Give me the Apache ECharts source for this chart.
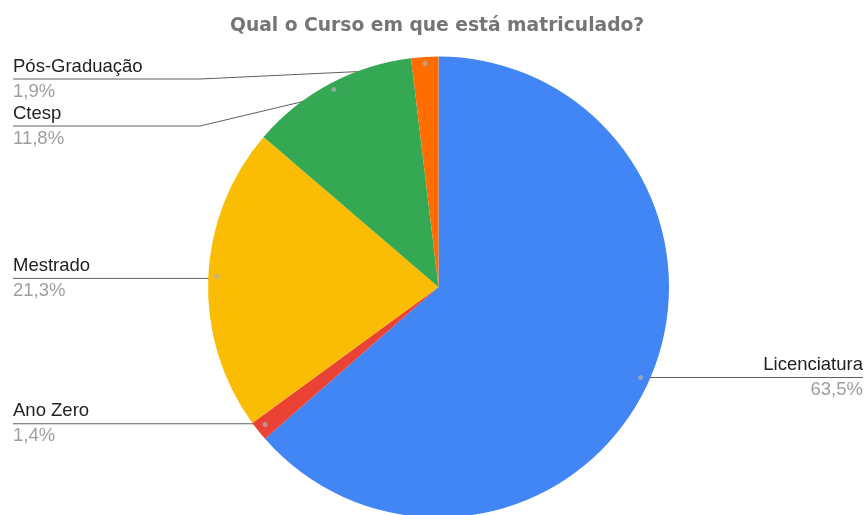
<!DOCTYPE html>
<html>
<head>
<meta charset="utf-8">
<script src="https://cdn.jsdelivr.net/npm/echarts@6/dist/echarts.min.js"></script>
<style>
  html, body { margin: 0; padding: 0; background: #fff; }
  #chart { width: 867px; height: 515px; }
</style>
</head>
<body>
<div id="chart"></div>
<script>
// Survey answers: share of respondents per course type (percent)
const chartTitle = 'Qual o Curso em que está matriculado?';
const categories = ['Licenciatura', 'Ano Zero', 'Mestrado', 'Ctesp', 'Pós-Graduação'];
const shares = [63.5, 1.4, 21.3, 11.8, 1.9];
const sliceColors = ['#4285F4', '#EA4335', '#FBBC04', '#34A853', '#FF6D01'];

// Pie geometry (page pixels) and the box the labels live in
const PIE_CX = 438.5, PIE_CY = 287, PIE_R = 230.5;
const BOX = { left: 13, right: 4, top: 0, bottom: 0 };
const DOT_RATIO = 0.95;        // leader lines start from a small dot inside each slice
const LABEL_COLUMN = 187;      // width of the label column the leader line runs under
const LABEL_GAP = 47;          // minimum vertical distance between stacked labels
const LABEL_TOP = 79;          // highest allowed leader-line row
const FONT = '"Liberation Sans", Arial, sans-serif';

const fmtPct = v => v.toFixed(1).replace('.', ',') + '%';
const center = [PIE_CX - BOX.left, PIE_CY - BOX.top];

// Anchor dot of every slice (mid-angle, clockwise from 12 o'clock)
const total = shares.reduce((a, b) => a + b, 0);
let acc = 0;
const anchors = shares.map(v => {
  const a = (acc + v / 2) / total * Math.PI * 2;
  acc += v;
  const rr = PIE_R * DOT_RATIO;
  return { x: PIE_CX + rr * Math.sin(a), y: PIE_CY - rr * Math.cos(a), left: Math.sin(a) < 0 };
});

// Row of each label: at its anchor's height, pushed down so stacked labels never collide
const labelRows = anchors.map(p => p.y);
[true, false].forEach(side => {
  const idx = anchors.map((p, i) => i).filter(i => anchors[i].left === side)
    .sort((a, b) => anchors[a].y - anchors[b].y);
  let prev = LABEL_TOP - LABEL_GAP;
  idx.forEach(i => {
    labelRows[i] = Math.max(anchors[i].y, prev + LABEL_GAP);
    prev = labelRows[i];
  });
});

const sliceData = categories.map((name, i) => ({
  name,
  value: shares[i],
  itemStyle: { color: sliceColors[i] }
}));

const chart = echarts.init(document.getElementById('chart'), null, { renderer: 'canvas' });

chart.setOption({
  animation: false,
  backgroundColor: '#ffffff',
  title: {
    text: chartTitle,
    left: 230,
    top: 17,
    padding: 0,
    textStyle: {
      fontFamily: '"DejaVu Sans", sans-serif',
      fontWeight: 'bold',
      fontSize: 18.7,
      color: '#757575'
    }
  },
  series: [
    {
      type: 'pie',
      ...BOX,
      center: center,
      radius: [0, PIE_R],
      startAngle: 90,
      clockwise: true,
      avoidLabelOverlap: false,
      emphasis: { disabled: true },
      data: sliceData,
      label: {
        show: true,
        position: 'outer',
        alignTo: 'edge',
        edgeDistance: 0,
        distanceToLabelLine: 0,
        formatter: p => `{n|${p.name}}\n{p|${fmtPct(p.value)}}`,
        rich: {
          n: { fontFamily: FONT, fontSize: 18.5, color: '#222222', lineHeight: 25 },
          p: { fontFamily: FONT, fontSize: 18.5, color: '#9e9e9e', lineHeight: 25 }
        }
      },
      labelLine: {
        show: true,
        length: 10,
        length2: 20,
        smooth: false,
        lineStyle: { color: '#5f5f5f', width: 1 }
      },
      labelLayout: function (params) {
        const i = params.dataIndex;
        const rect = params.labelRect;
        const y = labelRows[i];
        const dot = [anchors[i].x, anchors[i].y];
        const isLeft = anchors[i].left;
        const outer = isLeft ? rect.x : rect.x + rect.width;
        const turn = isLeft ? rect.x + LABEL_COLUMN : rect.x + rect.width - LABEL_COLUMN;
        return { y: y, labelLinePoints: [dot, [turn, y], [outer, y]] };
      }
    },
    {
      // small anchor dots where the leader lines start
      type: 'pie',
      ...BOX,
      center: center,
      radius: [PIE_R * (2 * DOT_RATIO - 1), PIE_R],
      startAngle: 90,
      clockwise: true,
      silent: true,
      emphasis: { disabled: true },
      data: categories.map((name, i) => ({ name, value: shares[i] })),
      itemStyle: { color: 'rgba(0,0,0,0)' },
      label: {
        show: true,
        position: 'inside',
        formatter: '\u2022',
        fontFamily: FONT,
        fontSize: 18,
        color: 'rgba(175,175,175,0.75)'
      },
      labelLine: { show: false }
    }
  ]
});
</script>
</body>
</html>
